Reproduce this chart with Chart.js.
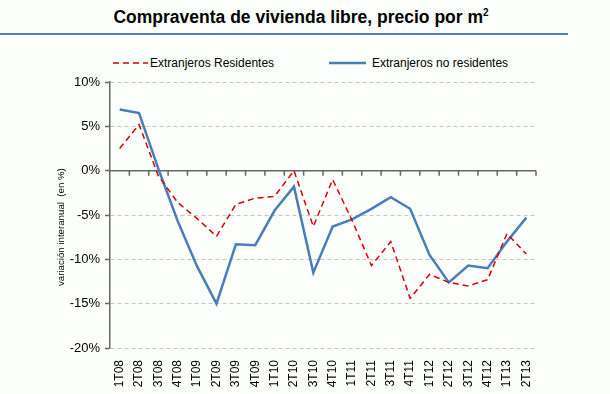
<!DOCTYPE html>
<html>
<head>
<meta charset="utf-8">
<script src="https://cdn.jsdelivr.net/npm/chart.js@4/dist/chart.umd.min.js"></script>
<style>
  html, body { margin: 0; padding: 0; background: #fdfffd; }
  body { width: 610px; height: 394px; position: relative; overflow: hidden;
         font-family: 'Liberation Sans', Arial, sans-serif; color: #000; }
  #wrap { position: absolute; left: 0; top: 0; width: 610px; height: 394px; }
  .title { position: absolute; left: 0; width: 602px; top: 6px; text-align: center;
           font-weight: bold; font-size: 17.5px; line-height: 22px; }
  .title sup { font-size: 10px; vertical-align: 7px; line-height: 0; }
  .rule { position: absolute; left: 0; top: 33px; width: 568px; height: 2px; background: #4f81bd; }
  .leg { position: absolute; top: 55px; height: 16px; font-size: 12px; line-height: 16px; white-space: nowrap; }
  .leg svg { position: absolute; left: 0; top: 0; }
</style>
</head>
<body>
<div class="title">Compraventa de vivienda libre, precio por m<sup>2</sup></div>
<div class="rule"></div>
<div class="leg" style="left:113px"><svg width="36" height="16"><line x1="0" y1="8" x2="35" y2="8" stroke="#d40000" stroke-width="1.5" stroke-dasharray="6,4"/></svg><span style="margin-left:37px">Extranjeros Residentes</span></div>
<div class="leg" style="left:329px"><svg width="38" height="16"><line x1="0" y1="8" x2="37" y2="8" stroke="#4a7ebb" stroke-width="2.5"/></svg><span style="margin-left:43px">Extranjeros no residentes</span></div>
<div id="wrap"><canvas id="chart" width="610" height="394"></canvas></div>

<script>
// ── DATA ───────────────────────────────────────────────────────
const quarters = ['1T08','2T08','3T08','4T08','1T09','2T09','3T09','4T09','1T10','2T10','3T10',
                  '4T10','1T11','2T11','3T11','4T11','1T12','2T12','3T12','4T12','1T13','2T13'];
const residentes   = [2.5, 5.2, -0.6, -3.6, -5.4, -7.4, -3.8, -3.1, -2.9, 0.0, -6.3,
                      -1.0, -5.6, -10.7, -8.0, -14.4, -11.7, -12.6, -13.0, -12.3, -7.1, -9.4];
const noResidentes = [6.9, 6.5, 0.2, -5.7, -10.8, -15.0, -8.3, -8.4, -4.5, -1.8, -11.5,
                      -6.3, -5.5, -4.3, -3.0, -4.3, -9.5, -12.6, -10.7, -11.0, -8.0, -5.3];
const yTicks = [-20, -15, -10, -5, 0, 5, 10];

const FONT = "'Liberation Sans', Arial, sans-serif";

// solid zero line with category tick marks hanging below it
const zeroAxis = {
  id: 'zeroAxis',
  beforeDatasetsDraw(chart) {
    const { ctx, chartArea, scales: { x, y } } = chart;
    const y0 = y.getPixelForValue(0);
    const step = x.getPixelForValue(1) - x.getPixelForValue(0);
    ctx.save();
    ctx.strokeStyle = '#666';
    ctx.lineWidth = 1.5;
    ctx.beginPath();
    ctx.moveTo(chartArea.left, y0);
    ctx.lineTo(chartArea.right, y0);
    for (let i = 0; i < quarters.length; i++) {
      const bx = x.getPixelForValue(i) + step / 2;
      ctx.moveTo(bx, y0);
      ctx.lineTo(bx, y0 + 5);
    }
    ctx.stroke();
    ctx.restore();
  },
};

new Chart(document.getElementById('chart').getContext('2d'), {
  type: 'line',
  data: {
    labels: quarters,
    datasets: [
      {
        label: 'Extranjeros Residentes',
        data: residentes,
        borderColor: '#d40000',
        backgroundColor: '#d40000',
        borderWidth: 1.5,
        borderDash: [6, 4],
        pointRadius: 0, tension: 0,
      },
      {
        label: 'Extranjeros no residentes',
        data: noResidentes,
        borderColor: '#4a7ebb',
        backgroundColor: '#4a7ebb',
        borderWidth: 2.5,
        pointRadius: 0, tension: 0,
      },
    ],
  },
  options: {
    responsive: false,
    animation: false,
    layout: { padding: { top: 82, right: 74, left: 0, bottom: 0 } },
    plugins: { legend: { display: false }, tooltip: { enabled: false } },
    scales: {
      x: {
        offset: true,
        grid: { display: false, drawTicks: false },
        border: { display: false },
        ticks: { minRotation: 90, maxRotation: 90, padding: 12, color: '#000',
                 font: { family: FONT, size: 12 } },
        afterFit: s => { s.height = 46; },
      },
      y: {
        min: -20, max: 10,
        afterBuildTicks: s => { s.ticks = yTicks.map(v => ({ value: v })); },
        grid: {
          color: c => (c.tick && c.tick.value === 0) ? 'rgba(0,0,0,0)' : '#c4c4c4',
          lineWidth: 1, drawTicks: true, tickLength: 5, tickColor: '#666', tickWidth: 1.5,
        },
        border: { display: true, color: '#666', width: 1.5, dash: [4, 3] },
        ticks: { padding: 5, color: '#000', font: { family: FONT, size: 13 },
                 callback: v => v + '%' },
        // trailing spaces push the label down a little, as in the original
        title: { display: true, text: 'variación interanual  (en %)\u00a0\u00a0\u00a0\u00a0\u00a0\u00a0\u00a0\u00a0\u00a0',
                 color: '#000', font: { family: FONT, size: 9.7 }, padding: { top: 56, bottom: 0 } },
        afterFit: s => { s.width = 110; },
      },
    },
  },
  plugins: [zeroAxis],
});
</script>
</body>
</html>
